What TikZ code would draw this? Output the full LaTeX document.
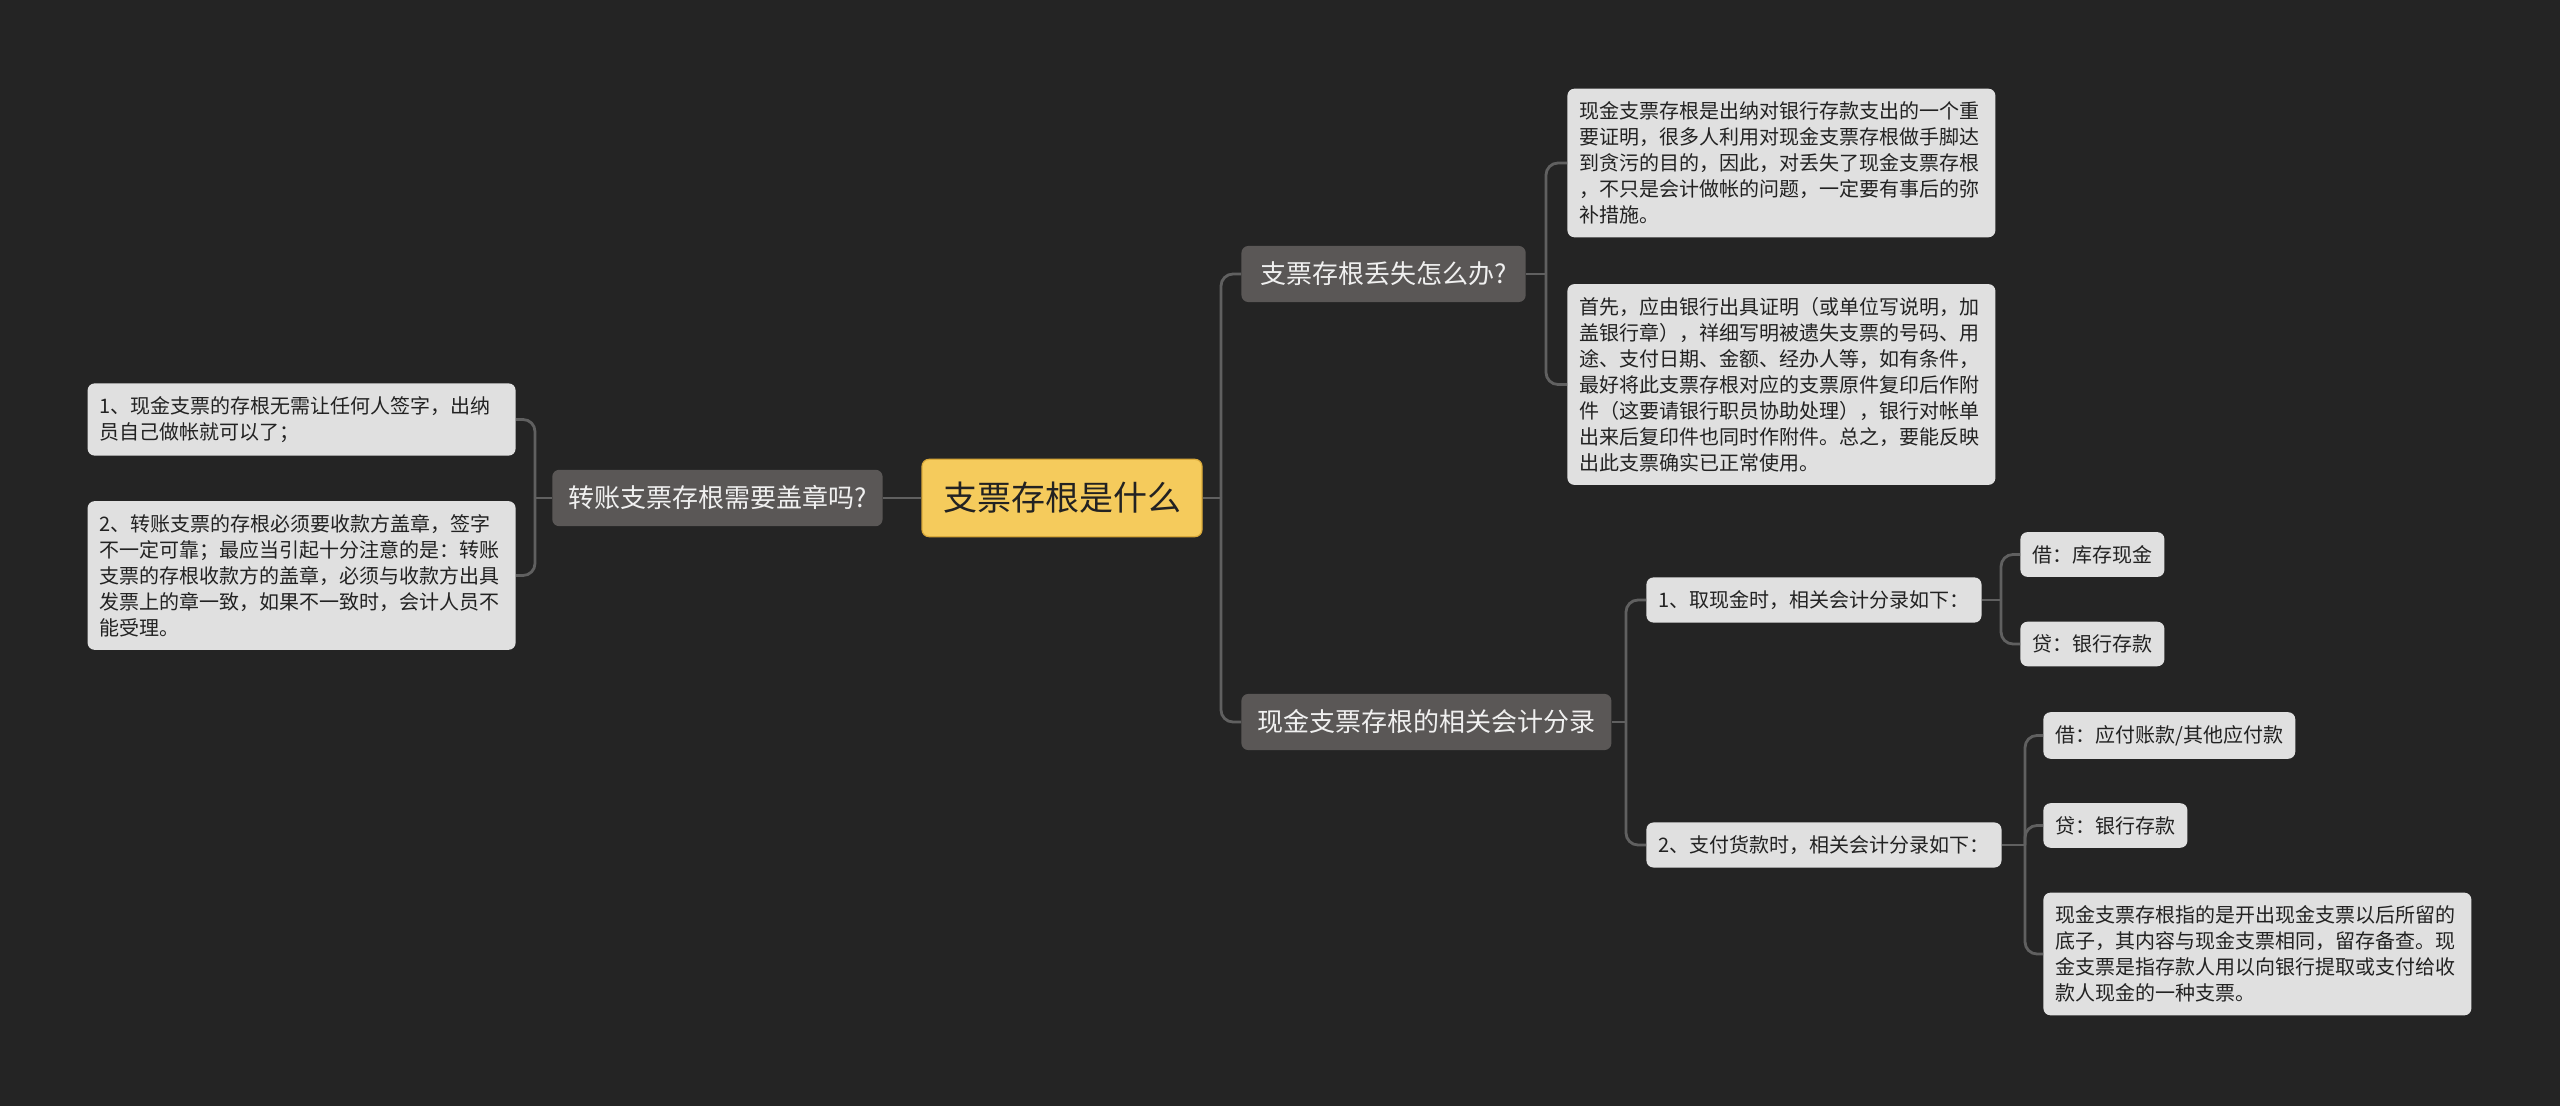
\documentclass[tikz,border=0pt]{standalone}
\usepackage{fontspec}
\setmainfont{Noto Sans CJK SC}
\usetikzlibrary{positioning}
\definecolor{bgdark}{HTML}{242424}
\definecolor{rootyellow}{HTML}{F5CB5C}
\definecolor{rootedge}{HTML}{D9A93A}
\definecolor{branchgray}{HTML}{5A5756}
\definecolor{leafgray}{HTML}{E0E0E0}
\definecolor{linkgray}{HTML}{606060}
\definecolor{inkdark}{HTML}{222222}
\begin{document}
\begin{tikzpicture}[x=0.5pt,y=-0.5pt,
    root/.style={fill=rootyellow, draw=rootedge, line width=0.6pt, rounded corners=3.5pt, text=inkdark,
        font=\fontsize{17}{20}\selectfont, inner xsep=10.5pt, inner ysep=11.5pt},
    branch/.style={fill=branchgray, rounded corners=3.5pt, text=white!94!black,
        font=\fontsize{13}{16}\selectfont, inner xsep=8pt, inner ysep=8pt},
    leaf/.style={fill=leafgray, rounded corners=3.5pt, text=inkdark,
        font=\fontsize{10}{13}\selectfont, inner xsep=6pt, inner ysep=6.5pt},
    para/.style={leaf, text width=202pt, align=left},
    link/.style={draw=linkgray, line width=1.4pt}]
    \fill[bgdark] (0,0) rectangle (2560,1106);
    \useasboundingbox (0,0) rectangle (2560,1106);

    % centre
    \node[root] (Root) at (1062,498) {支票存根是什么};

    % left side
    \node[branch, anchor=east] (Seal) at (883,498) {转账支票存根需要盖章吗?};
    \node[para, anchor=east] (SealA) at (516,419.5) {1、现金支票的存根无需让任何人签字，出纳\\员自己做帐就可以了；};
    \node[para, anchor=east] (SealB) at (516,575.5) {2、转账支票的存根必须要收款方盖章，签字\\不一定可靠；最应当引起十分注意的是：转账\\支票的存根收款方的盖章，必须与收款方出具\\发票上的章一致，如果不一致时，会计人员不\\能受理。};

    % right side
    \node[branch, anchor=west, inner xsep=9.5pt] (Lost) at (1241,274) {支票存根丢失怎么办?};
    \node[para, anchor=west] (LostA) at (1567,163) {现金支票存根是出纳对银行存款支出的一个重\\要证明，很多人利用对现金支票存根做手脚达\\到贪污的目的，因此，对丢失了现金支票存根\\，不只是会计做帐的问题，一定要有事后的弥\\补措施。};
    \node[para, anchor=west] (LostB) at (1567,384.5) {首先，应由银行出具证明（或单位写说明，加\\盖银行章），祥细写明被遗失支票的号码、用\\途、支付日期、金额、经办人等，如有条件，\\最好将此支票存根对应的支票原件复印后作附\\件（这要请银行职员协助处理），银行对帐单\\出来后复印件也同时作附件。总之，要能反映\\出此支票确实已正常使用。};

    \node[branch, anchor=west] (Entry) at (1241,722) {现金支票存根的相关会计分录};
    \node[leaf, anchor=west] (Cash) at (1646,600) {1、取现金时，相关会计分录如下：};
    \node[leaf, anchor=west] (CashDr) at (2020,554.5) {借：库存现金};
    \node[leaf, anchor=west] (CashCr) at (2020,644) {贷：银行存款};
    \node[leaf, anchor=west] (Pay) at (1646,845) {2、支付货款时，相关会计分录如下：};
    \node[leaf, anchor=west] (PayDr) at (2043,735.5) {借：应付账款/其他应付款};
    \node[leaf, anchor=west] (PayCr) at (2043,825.5) {贷：银行存款};
    \node[para, anchor=west] (PayNote) at (2043,954) {现金支票存根指的是开出现金支票以后所留的\\底子，其内容与现金支票相同，留存备查。现\\金支票是指存款人用以向银行提取或支付给收\\款人现金的一种支票。};

    % connectors
    \draw[link] (Root.west) -- (Seal.east);
    \draw[link] (Seal.west) -- (535,498) coordinate (SealS);
    \draw[link, rounded corners=6pt] (SealS) |- (SealA.east);
    \draw[link, rounded corners=6pt] (SealS) |- (SealB.east);

    \draw[link] (Root.east) -- (1221,498) coordinate (RootS);
    \draw[link, rounded corners=6pt] (RootS) |- (Lost.west);
    \draw[link, rounded corners=6pt] (RootS) |- (Entry.west);

    \draw[link] (Lost.east) -- (1546,274) coordinate (LostS);
    \draw[link, rounded corners=6pt] (LostS) |- (LostA.west);
    \draw[link, rounded corners=6pt] (LostS) |- (LostB.west);

    \draw[link] (Entry.east) -- (1626,722) coordinate (EntryS);
    \draw[link, rounded corners=6pt] (EntryS) |- (Cash.west);
    \draw[link, rounded corners=6pt] (EntryS) |- (Pay.west);

    \draw[link] (Cash.east) -- (2001,600) coordinate (CashS);
    \draw[link, rounded corners=6pt] (CashS) |- (CashDr.west);
    \draw[link, rounded corners=6pt] (CashS) |- (CashCr.west);

    \draw[link] (Pay.east) -- (2025,845) coordinate (PayS);
    \draw[link, rounded corners=6pt] (PayS) |- (PayDr.west);
    \draw[link, rounded corners=6pt] (PayS) |- (PayCr.west);
    \draw[link, rounded corners=6pt] (PayS) |- (PayNote.west);
\end{tikzpicture}
\end{document}
